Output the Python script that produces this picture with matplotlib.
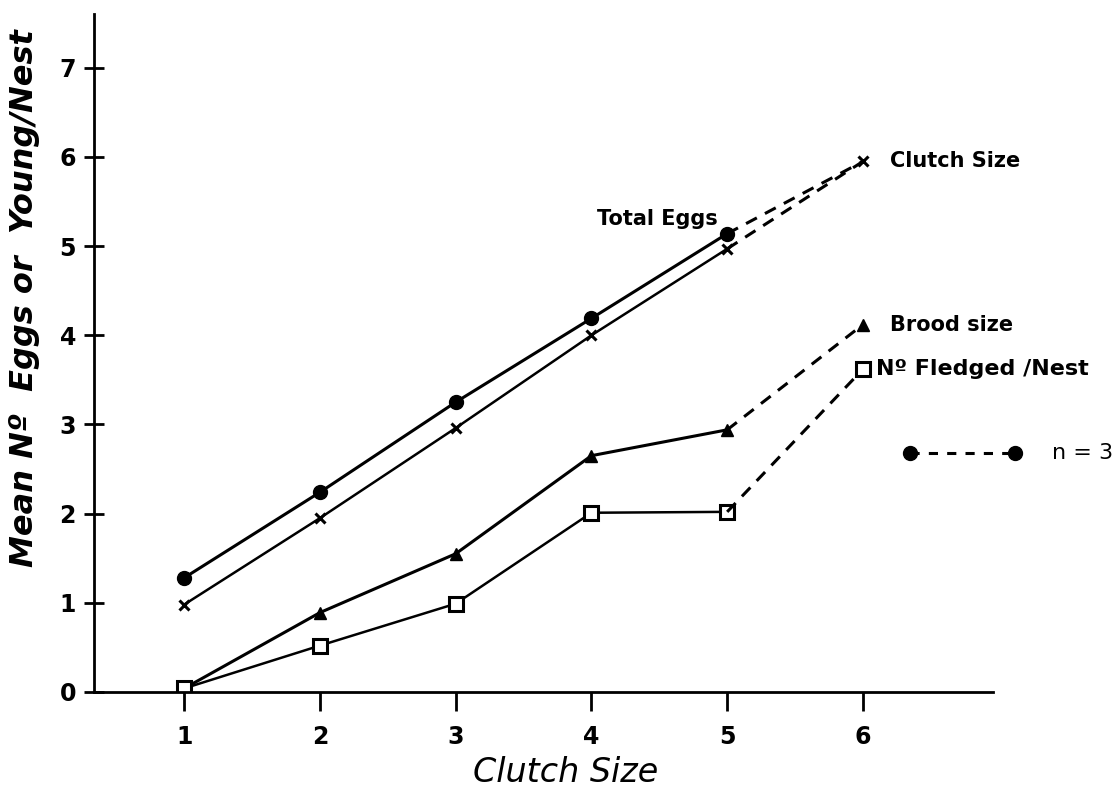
import matplotlib
matplotlib.use("Agg")
from matplotlib import pyplot as plt

# data
clutch = [1, 2, 3, 4, 5, 6]
total_eggs = [1.28, 2.24, 3.25, 4.19, 5.14]
total_eggs_6 = 5.95
clutch_mean = [0.98, 1.95, 2.96, 4.0, 4.97, 5.95]
brood = [0.04, 0.89, 1.55, 2.65, 2.94, 4.12]
fledged = [0.04, 0.52, 0.99, 2.01, 2.02, 3.62]
key_x = [6.35, 7.12]
key_y = [2.68, 2.68]

plt.rcParams['font.family'] = ['DejaVu Sans']

fig = plt.figure(figsize=(11.17, 7.95), dpi=100)
ax = fig.add_axes([0.0842, 0.1296, 0.805, 0.8524])
ax.set_xlim(0.336, 6.96)
ax.set_ylim(0, 7.6)

lw = 2.2
# solid parts (clutch 1-5)
ax.plot(clutch[:5], total_eggs, color='black', lw=lw, marker='o', ms=10)
ax.plot(clutch[:5], clutch_mean[:5], color='black', lw=lw - 0.4, marker='x',
        ms=7, mew=2.2)
ax.plot(clutch[:5], brood[:5], color='black', lw=lw, marker='^', ms=8)
ax.plot(clutch[:5], fledged[:5], color='black', lw=lw - 0.4, marker='s', ms=10,
        mfc='white', mew=2.2)

# dashed parts (n = 3)
ax.plot([5, 6], [total_eggs[-1], total_eggs_6], color='black', lw=lw, ls=(0, (4, 3)))
ax.plot(clutch[4:], clutch_mean[4:], color='black', lw=lw, ls=(0, (4, 3)),
        marker='x', ms=7, mew=2.2, markevery=[1])
ax.plot(clutch[4:], brood[4:], color='black', lw=lw, ls=(0, (4, 3)),
        marker='^', ms=8, markevery=[1])
ax.plot(clutch[4:], fledged[4:], color='black', lw=lw, ls=(0, (4, 3)),
        marker='s', ms=10, mfc='white', mew=2.2, markevery=[1])

# key for dashed lines
ax.plot(key_x, key_y, color='black', lw=lw, ls=(0, (3, 3)), marker='o', ms=10,
        clip_on=False)
ax.text(7.39, 2.68, "n = 3", fontsize=16, va='center', ha='left')

# series labels
ax.text(6.2, clutch_mean[-1], "Clutch Size", fontsize=15, fontweight='bold',
        va='center', ha='left')
ax.text(6.2, brood[-1], "Brood size", fontsize=15, fontweight='bold',
        va='center', ha='left')
ax.text(6.1, fledged[-1], "Nº Fledged /Nest", fontsize=16, fontweight='bold',
        va='center', ha='left')
ax.text(4.93, 5.3, "Total Eggs", fontsize=15, fontweight='bold',
        va='center', ha='right')

# axes styling
for s in ['top', 'right']:
    ax.spines[s].set_visible(False)
ax.spines['left'].set_linewidth(2)
ax.spines['bottom'].set_linewidth(2)
ax.set_xticks(clutch)
ax.set_yticks(range(0, 8))
ax.tick_params(axis='x', direction='out', length=14, width=2, labelsize=17, pad=10)
ax.tick_params(axis='y', direction='inout', length=14, width=2, labelsize=17, pad=6)
for lab in ax.get_xticklabels() + ax.get_yticklabels():
    lab.set_fontweight('bold')

ax.set_xlabel("Clutch Size", fontsize=24, fontstyle='italic', labelpad=8)
ax.xaxis.set_label_coords(0.525, -0.095)
fig.text(0.022, 0.625, "Mean Nº  Eggs or  Young/Nest", fontsize=23,
         fontstyle='italic', fontweight='bold', rotation=90,
         va='center', ha='center')

fig.savefig("out.png", dpi=100)
